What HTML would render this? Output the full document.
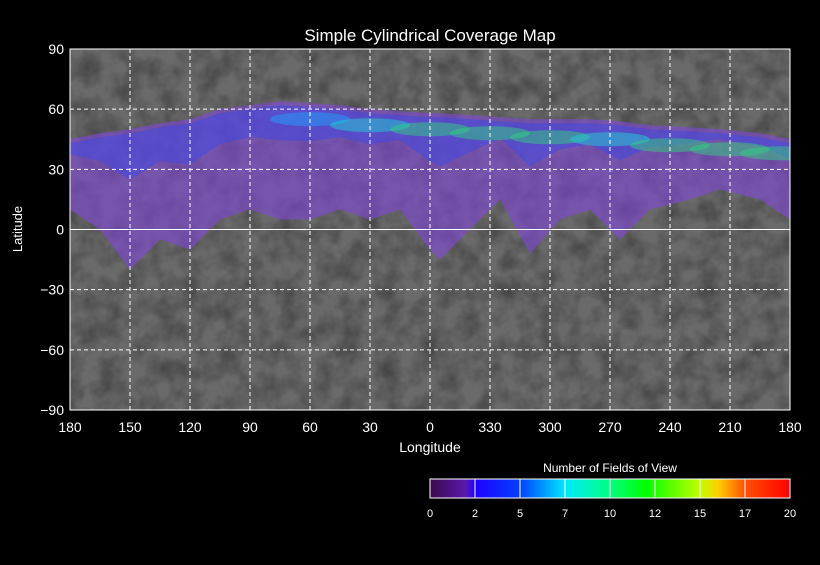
<!DOCTYPE html>
<html><head><meta charset="utf-8"><style>
body{margin:0;background:#000;width:820px;height:560px;overflow:hidden;font-family:"Liberation Sans",sans-serif;}
text{font-family:"Liberation Sans",sans-serif;fill:#fff;}
</style></head><body>
<svg id="chart" width="820" height="560">
<defs>
<linearGradient id="cbar" x1="0" x2="1" y1="0" y2="0">
<stop offset="0" stop-color="#3a0a4a"/><stop offset="0.1" stop-color="#5a18b0"/>
<stop offset="0.125" stop-color="#2000ff"/><stop offset="0.25" stop-color="#0040ff"/>
<stop offset="0.375" stop-color="#00e8ff"/><stop offset="0.5" stop-color="#00ff80"/>
<stop offset="0.6" stop-color="#00ff00"/><stop offset="0.75" stop-color="#c0ff00"/>
<stop offset="0.8" stop-color="#ffd000"/><stop offset="0.875" stop-color="#ff5000"/>
<stop offset="1" stop-color="#ff0000"/>
</linearGradient>
<filter id="tex" x="0" y="0" width="1" height="1"><feTurbulence type="fractalNoise" baseFrequency="0.05" numOctaves="3" seed="4"/><feColorMatrix type="matrix" values="0 0 0 0 0 0 0 0 0 0 0 0 0 0 0 0.6 0 0 0 -0.2"/></filter>
<clipPath id="pc"><rect x="70" y="49" width="720" height="361"/></clipPath>
</defs>
<text x="430" y="41" text-anchor="middle" font-size="17">Simple Cylindrical Coverage Map</text>
<g id="plot"></g>
<text x="22" y="229" text-anchor="middle" font-size="13" transform="rotate(-90 22 229)">Latitude</text>
<text x="430" y="452" text-anchor="middle" font-size="14">Longitude</text>
<g id="legend"></g>
</svg>
<script>
const xTickLabels=["180","150","120","90","60","30","0","330","300","270","240","210","180"];
const yTickValues=[90,60,30,0,-30,-60,-90];
const covPos=[0,15,30,45,60,75,90,105,120,135,150,165,180,185,200,215,230,245,260,275,290,310,325,345,360];
const covNorth=[45,48,50,53,55,60,62,64,63,62,60,59,58,58,57,56,55,55,55,54,52,51,50,48,45];
const covSouth=[10,0,-20,-5,-10,5,10,5,5,10,5,10,-10,-15,0,15,-12,5,10,-5,10,15,20,15,5];
const peakPos=[120,150,180,210,240,270,300,330,355];
const peakLat=[55,52,50,48,46,45,42,40,38];
const peakCount=[5,7,9,9,8,6,9,9,8];
const cbTicks=["0","2","5","7","10","12","15","17","20"];
const L=70,R=790,T=49,B=410;
const xs=d=>L+(R-L)*d/360;
const ys=lat=>T+(B-T)*(90-lat)/180;
const ns="http://www.w3.org/2000/svg";
const mk=(t,a,p)=>{const e=document.createElementNS(ns,t);for(const k in a)e.setAttribute(k,a[k]);p.appendChild(e);return e;};
const plot=document.getElementById('plot');
const bg=mk('rect',{x:L,y:T,width:R-L,height:B-T,fill:'#6a6a6a'},plot);


const tx=mk('rect',{x:L,y:T,width:R-L,height:B-T,filter:'url(#tex)'},plot);


const cg=mk('g',{'clip-path':'url(#pc)'},plot);
let pts=covPos.map((d,i)=>xs(d)+','+ys(covNorth[i]));
for(let i=covPos.length-1;i>=0;i--)pts.push(xs(covPos[i])+','+ys(covSouth[i]));
const cov=mk('polygon',{points:pts.join(' '),fill:'#8048d8','fill-opacity':0.6},cg);


let pts2=covPos.map((d,i)=>xs(d)+','+ys(covNorth[i]-2));
for(let i=covPos.length-1;i>=0;i--)pts2.push(xs(covPos[i])+','+ys((covNorth[i]+covSouth[i])/2+10));
const cov2=mk('polygon',{points:pts2.join(' '),fill:'#3848f0','fill-opacity':0.45},cg);


const cmap=c=>c<3?'#4040ff':c<6?'#20a0ff':c<8?'#20d0d0':'#30d080';
peakPos.forEach((d,i)=>{
 const e=mk('ellipse',{cx:xs(d),cy:ys(peakLat[i]),rx:40,ry:7,fill:cmap(peakCount[i]),'fill-opacity':0.5},cg);
 
 
});
yTickValues.forEach(v=>{
 if(v!==90&&v!==-90){const g=mk('line',{x1:L,x2:R,y1:ys(v),y2:ys(v),stroke:'#fff','stroke-width':1,'stroke-dasharray':v===0?'':'4,3'},plot);
 
 }
 const t=mk('text',{x:L-6,y:ys(v)+5,'text-anchor':'end','font-size':14},plot);t.textContent=String(v).replace('-','\u2212');
 
 
});
xTickLabels.forEach((s,i)=>{
 const x=xs(i*30);
 if(i>0&&i<12){const g=mk('line',{x1:x,x2:x,y1:T,y2:B,stroke:'#fff','stroke-width':1,'stroke-dasharray':'4,3'},plot);
 
 }
 const t=mk('text',{x:x,y:432,'text-anchor':'middle','font-size':14},plot);t.textContent=s;
 
 
});
const fr=mk('rect',{x:L,y:T,width:R-L,height:B-T,fill:'none',stroke:'#fff'},plot);


const lg=document.getElementById('legend');
const ct=mk('text',{x:610,y:472,'text-anchor':'middle','font-size':12},lg);ct.textContent='Number of Fields of View';


const cb=mk('rect',{x:430,y:479,width:360,height:19,fill:'url(#cbar)',stroke:'#fff'},lg);


cbTicks.forEach((s,i)=>{
 const x=430+i*45;
 if(i>0&&i<8){const l=mk('line',{x1:x,x2:x,y1:479,y2:498,stroke:'#fff'},lg);
 
 }
 const t=mk('text',{x:x,y:517,'text-anchor':'middle','font-size':11},lg);t.textContent=s;
 
 
});
</script>
</body></html>
